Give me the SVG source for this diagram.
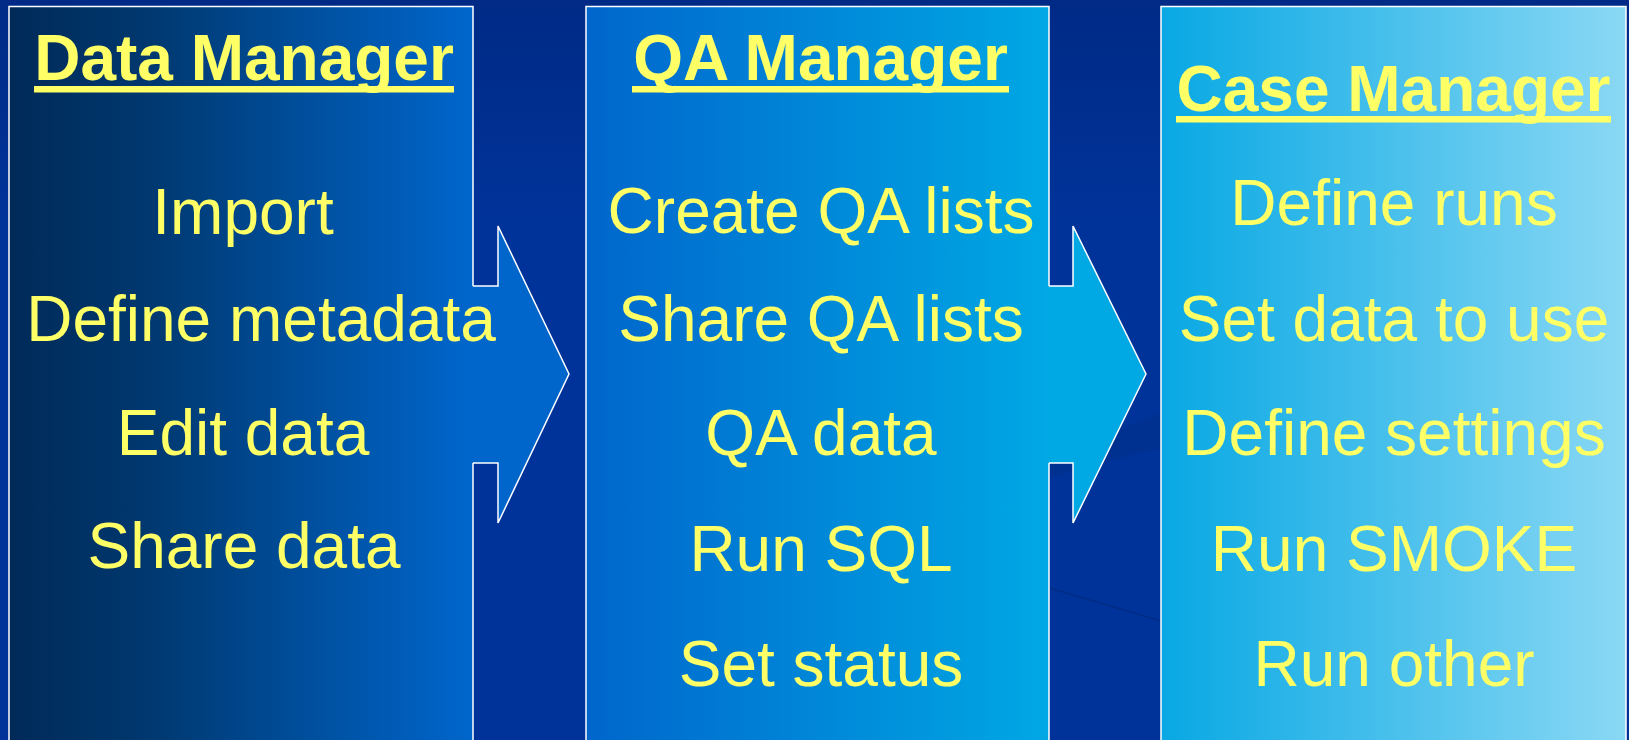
<svg xmlns="http://www.w3.org/2000/svg" width="1629" height="740" viewBox="0 0 1629 740">
  <defs>
    <linearGradient id="bg" x1="0" y1="0" x2="0" y2="740" gradientUnits="userSpaceOnUse">
      <stop offset="0" stop-color="#002a86"/>
      <stop offset="0.3" stop-color="#003399"/>
      <stop offset="1" stop-color="#003399"/>
    </linearGradient>
    <!-- column fills run left to right; the pad carries the edge colour into each arrow -->
    <linearGradient id="fillData" x1="9" y1="0" x2="473" y2="0" gradientUnits="userSpaceOnUse">
      <stop offset="0" stop-color="#002a58"/>
      <stop offset="0.3" stop-color="#00386f"/>
      <stop offset="1" stop-color="#0066cc"/>
    </linearGradient>
    <linearGradient id="fillQA" x1="586" y1="0" x2="1049" y2="0" gradientUnits="userSpaceOnUse">
      <stop offset="0" stop-color="#0066cc"/>
      <stop offset="1" stop-color="#00a8e4"/>
    </linearGradient>
    <linearGradient id="fillCase" x1="1161" y1="0" x2="1626" y2="0" gradientUnits="userSpaceOnUse">
      <stop offset="0" stop-color="#08a8e4"/>
      <stop offset="1" stop-color="#8ad8f4"/>
    </linearGradient>
    <style>
      .edge { fill: none; stroke: #ffffff; stroke-width: 1.5; stroke-linejoin: miter; }
      .title { font-family: "Liberation Sans", Arial, sans-serif; font-weight: bold; font-size: 64px; fill: #ffff66; text-anchor: middle; }
      .item { font-family: "Liberation Sans", Arial, sans-serif; font-size: 64px; fill: #ffff66; text-anchor: middle; }
      .rule { fill: #ffff66; }
    </style>
  </defs>

  <!-- backdrop -->
  <rect x="0" y="0" width="1629" height="740" fill="url(#bg)"/>
  <path d="M1049,463 Q1100,436 1161,413 L1161,448 Q1100,462 1049,478 Z" fill="#002a80" opacity="0.35"/>
  <line x1="1049" y1="588" x2="1161" y2="621" stroke="#00287a" stroke-width="1.5" opacity="0.6"/>

  <!-- arrows sit under the columns so the column text runs over them -->
  <g id="connectors">
    <g id="arrow-data-qa">
      <path d="M471,286 H498 V226 L569,374 L498,523 V463 H471 Z" fill="url(#fillData)"/>
      <path class="edge" d="M473,286 H498 V226 L569,374 L498,523 V463 H473"/>
    </g>
    <g id="arrow-qa-case">
      <path d="M1047,286 H1073 V226 L1146,374 L1073,523 V463 H1047 Z" fill="url(#fillQA)"/>
      <path class="edge" d="M1049,286 H1073 V226 L1146,374 L1073,523 V463 H1049"/>
    </g>
  </g>

  <g id="data-manager">
    <rect x="9" y="6.5" width="464" height="740" fill="url(#fillData)"/>
    <path class="edge" d="M473,286 V6.5 H9 V746 M473,463 V746"/>
    <text class="title" x="244" y="80">Data Manager</text>
    <rect class="rule" x="34" y="86" width="420" height="6.5"/>
    <text class="item" x="243" y="234">Import</text>
    <text class="item" x="261" y="341">Define metadata</text>
    <text class="item" x="243" y="455">Edit data</text>
    <text class="item" x="244" y="568">Share data</text>
  </g>

  <g id="qa-manager">
    <rect x="586" y="6.5" width="463" height="740" fill="url(#fillQA)"/>
    <path class="edge" d="M1049,286 V6.5 H586 V746 M1049,463 V746"/>
    <text class="title" x="820.5" y="80">QA Manager</text>
    <rect class="rule" x="632" y="86" width="377" height="6.5"/>
    <text class="item" x="821" y="233">Create QA lists</text>
    <text class="item" x="821" y="341">Share QA lists</text>
    <text class="item" x="821" y="455">QA data</text>
    <text class="item" x="821" y="571">Run SQL</text>
    <text class="item" x="821" y="686">Set status</text>
  </g>

  <g id="case-manager">
    <rect x="1161" y="6.5" width="465" height="740" fill="url(#fillCase)" stroke="#ffffff" stroke-width="1.5"/>
    <text class="title" x="1393.5" y="111">Case Manager</text>
    <rect class="rule" x="1176" y="116" width="435" height="6.5"/>
    <text class="item" x="1394" y="225">Define runs</text>
    <text class="item" x="1394" y="341">Set data to use</text>
    <text class="item" x="1394" y="455">Define settings</text>
    <text class="item" x="1394" y="571">Run SMOKE</text>
    <text class="item" x="1394" y="686">Run other</text>
  </g>
</svg>
